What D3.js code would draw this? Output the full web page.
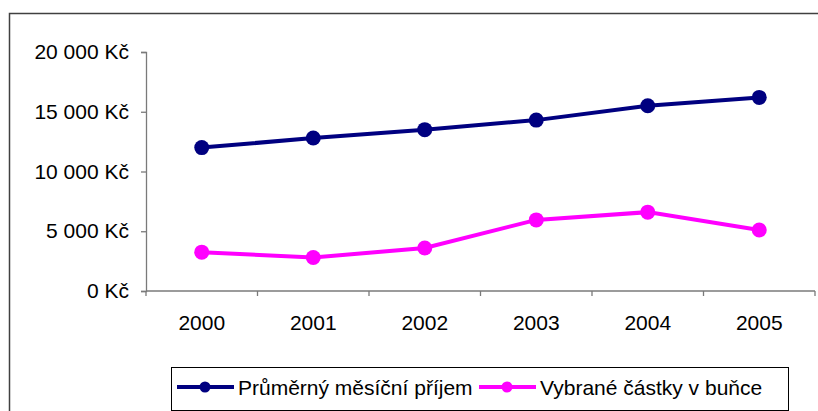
<!DOCTYPE html>
<html><head><meta charset="utf-8">
<script src="https://cdn.jsdelivr.net/npm/d3@7"></script>
<style>body{margin:0;background:#fff}svg{display:block}text{font-family:"Liberation Sans",Arial,sans-serif}</style>
</head><body><svg id="c" width="818" height="411"></svg>
<script>
const years = ["2000","2001","2002","2003","2004","2005"];
const prijem = [12000,12800,13500,14300,15500,16200];
const castky = [3250,2800,3600,5950,6600,5100];
const yTicks = [0,5000,10000,15000,20000];
const seriesNames = ["Průměrný měsíční příjem","Vybrané částky v buňce"];
const seriesColors = ["#000080","#FF00FF"];

const svg = d3.select("#c");
// outer frame
svg.append("rect").attr("x",9.5).attr("y",13.5).attr("width",900).attr("height",500)
  .attr("fill","none").attr("stroke","#404040").attr("stroke-width",1.5);

const x = d3.scaleBand().domain(years).range([146,815]).paddingInner(0).paddingOuter(0);
const y = d3.scaleLinear().domain([0,20000]).range([291,52]);
const fmt = v => d3.format(",")(v).replace(/,/g," ") + " Kč";

// y axis
const ya = svg.append("g").attr("transform","translate(146,0)")
  .call(d3.axisLeft(y).tickValues(yTicks).tickSize(5).tickPadding(12).tickFormat(fmt));
ya.select(".domain").attr("stroke","#7a7a7a").attr("stroke-width",1.3);
ya.selectAll(".tick line").attr("stroke","#7a7a7a").attr("stroke-width",1.3);
ya.selectAll("text").attr("font-size",21).attr("fill","#000").attr("font-family","Liberation Sans, Arial, sans-serif");

// x axis
const xa = svg.append("g");
xa.append("line").attr("x1",146).attr("x2",815).attr("y1",y(0)).attr("y2",y(0))
  .attr("stroke","#7a7a7a").attr("stroke-width",1.3);
xa.selectAll("line.t").data(years.concat(["end"])).join("line").attr("class","t")
  .attr("x1",d=>d==="end"?815:x(d)).attr("x2",d=>d==="end"?815:x(d))
  .attr("y1",y(0)).attr("y2",y(0)+5).attr("stroke","#7a7a7a").attr("stroke-width",1.3);
xa.selectAll("text").data(years).join("text")
  .attr("x",d=>x(d)+x.bandwidth()/2).attr("y",330).attr("text-anchor","middle")
  .attr("font-size",21).attr("fill","#000").text(d=>d);

const cx = d => x(d)+x.bandwidth()/2;
const line = d3.line().x((d,i)=>cx(years[i])).y(d=>y(d));
[prijem,castky].forEach((vals,k)=>{
  svg.append("path").datum(vals).attr("d",line).attr("fill","none")
    .attr("stroke",seriesColors[k]).attr("stroke-width",4);
  svg.selectAll("circle.s"+k).data(vals).join("circle").attr("class","s"+k)
    .attr("cx",(d,i)=>cx(years[i])).attr("cy",d=>y(d)).attr("r",7.5).attr("fill",seriesColors[k]);
});

// legend
const lg = svg.append("g");
lg.append("rect").attr("x",171.5).attr("y",367.5).attr("width",617).attr("height",43)
  .attr("fill","#fff").attr("stroke","#000").attr("stroke-width",1);
const legX = [177,479];
seriesNames.forEach((n,k)=>{
  const g = lg.append("g");
  g.append("line").attr("x1",legX[k]).attr("x2",legX[k]+57).attr("y1",387).attr("y2",387)
    .attr("stroke",seriesColors[k]).attr("stroke-width",4);
  g.append("circle").attr("cx",legX[k]+28).attr("cy",387).attr("r",5.5).attr("fill",seriesColors[k]);
  g.append("text").attr("x",legX[k]+61).attr("y",395).attr("font-size",21).attr("fill","#000").text(n);
});
</script></body></html>
